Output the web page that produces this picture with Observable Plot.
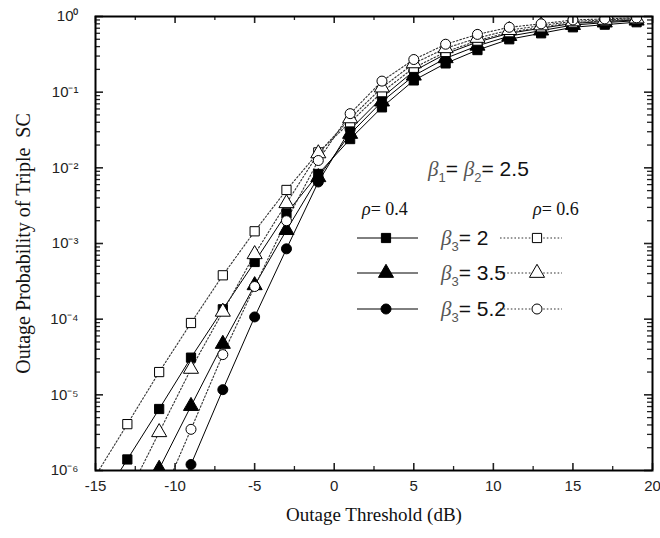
<!DOCTYPE html>
<html><head><meta charset="utf-8">
<script src="https://cdn.jsdelivr.net/npm/d3@7"></script>
<script src="https://cdn.jsdelivr.net/npm/@observablehq/plot@0.6"></script>
<style>
body{margin:0;background:#fff}
#wrap{position:relative;width:660px;height:538px}
#legend{position:absolute;left:0;top:0;pointer-events:none}
</style>
</head><body><div id="wrap"></div>
<script>
// Outage threshold (dB)
const thresholds = [-15,-13,-11,-9,-7,-5,-3,-1,1,3,5,7,9,11,13,15,17,19];
// rho = 0.4 (solid, filled markers)
const rho04_beta2   = [3.0e-7,1.4e-6,6.5e-6,3.1e-5,1.35e-4,5.7e-4,2.5e-3,8.3e-3,2.4e-2,0.063,0.143,0.24,0.36,0.50,0.60,0.72,0.78,0.84];
const rho04_beta3_5 = [null,2.0e-7,1.05e-6,7.1e-6,4.7e-5,2.8e-4,1.5e-3,7.5e-3,2.8e-2,0.075,0.165,0.28,0.41,0.55,0.65,0.77,0.83,0.88];
const rho04_beta5_2 = [null,null,1.4e-7,1.2e-6,1.17e-5,1.07e-4,8.5e-4,6.5e-3,3.2e-2,0.085,0.19,0.32,0.46,0.60,0.70,0.81,0.86,0.90];
// rho = 0.6 (dotted, open markers)
const rho06_beta2   = [8.5e-7,4.1e-6,2.0e-5,8.9e-5,3.8e-4,1.45e-3,5.1e-3,1.6e-2,4.0e-2,0.10,0.21,0.34,0.48,0.62,0.72,0.83,0.87,0.92];
const rho06_beta3_5 = [null,4.6e-7,3.2e-6,2.2e-5,1.25e-4,7.2e-4,3.4e-3,1.55e-2,4.5e-2,0.115,0.24,0.38,0.52,0.66,0.76,0.86,0.90,0.94];
const rho06_beta5_2 = [null,null,3.7e-7,3.5e-6,3.4e-5,2.7e-4,2.0e-3,1.25e-2,5.2e-2,0.14,0.27,0.43,0.58,0.72,0.80,0.90,0.93,0.96];

const xTicks = [-15,-10,-5,0,5,10,15,20];
const xMinorTicks = [-12.5,-7.5,-2.5,2.5,7.5,12.5,17.5];
const yTicks = [1e-6,1e-5,1e-4,1e-3,1e-2,1e-1,1];
const yMinorTicks = [];
for (let k = -6; k < 0; k++) for (let m = 2; m <= 9; m++) yMinorTicks.push(m * Math.pow(10, k));

const series = [
  {vals: rho04_beta2,   symbol: "square",   open: false},
  {vals: rho04_beta3_5, symbol: "triangle", open: false},
  {vals: rho04_beta5_2, symbol: "circle",   open: false},
  {vals: rho06_beta2,   symbol: "square",   open: true},
  {vals: rho06_beta3_5, symbol: "triangle", open: true},
  {vals: rho06_beta5_2, symbol: "circle",   open: true}
];

const W = 660, H = 538, mL = 95, mR = 8, mT = 16, mB = 68;
const pW = W - mL - mR, pH = H - mT - mB;
const sup = {"-":"⁻","0":"⁰","1":"¹","2":"²","3":"³","4":"⁴","5":"⁵","6":"⁶"};
const fmtY = d => "10" + String(Math.round(Math.log10(d))).split("").map(c => sup[c]).join("");

const marks = [];
for (const s of series) {
  const data = thresholds.map((x, i) => ({x, y: s.vals[i]})).filter(d => d.y != null);
  marks.push(Plot.line(data, {x: "x", y: "y", clip: true,
    stroke: s.open ? "#333" : "#000", strokeWidth: s.open ? 1.1 : 1,
    strokeDasharray: s.open ? "1.6,2" : null}));
}
for (const s of series) {
  const data = thresholds.map((x, i) => ({x, y: s.vals[i]})).filter(d => d.y != null);
  const r = s.symbol === "circle" ? 5 : s.symbol === "triangle" ? 5.6 : 5.2;
  marks.push(Plot.dot(data, {x: "x", y: "y", clip: true, symbol: () => s.symbol, r,
    fill: s.open ? "#fff" : "#000", stroke: "#000", strokeWidth: 1}));
}
// ticks inward on all sides
marks.push(
  Plot.ruleX(xTicks, {x: d => d, insetTop: pH - 7, strokeWidth: 1.6}),
  Plot.ruleX(xTicks, {x: d => d, insetBottom: pH - 7, strokeWidth: 1.6}),
  Plot.ruleX(xMinorTicks, {x: d => d, insetTop: pH - 4, strokeWidth: 1.3}),
  Plot.ruleX(xMinorTicks, {x: d => d, insetBottom: pH - 4, strokeWidth: 1.3}),
  Plot.ruleY(yTicks, {y: d => d, insetRight: pW - 8, strokeWidth: 1.6}),
  Plot.ruleY(yTicks, {y: d => d, insetLeft: pW - 8, strokeWidth: 1.6}),
  Plot.ruleY(yMinorTicks, {y: d => d, insetRight: pW - 5, strokeWidth: 1.3}),
  Plot.ruleY(yMinorTicks, {y: d => d, insetLeft: pW - 5, strokeWidth: 1.3}),
  Plot.frame({stroke: "#000", strokeWidth: 2}),
  Plot.axisX(xTicks, {tickSize: 0, tickPadding: 10, tickFormat: d => String(d), fontSize: 15, label: null}),
  Plot.axisY(yTicks, {tickSize: 0, tickPadding: 17, tickFormat: fmtY, fontSize: 15, label: null}),
  Plot.text(["Outage Threshold (dB)"], {frameAnchor: "bottom", dy: 50, fontSize: 19, textAnchor: "middle",
    fontFamily: "Liberation Serif, Times New Roman, serif", fill: "#111"}),
  Plot.text(["Outage Probability of Triple  SC"], {frameAnchor: "left", dx: -72, rotate: -90, fontSize: 20,
    textAnchor: "middle", fontFamily: "Liberation Serif, Times New Roman, serif", fill: "#111"})
);

const chart = Plot.plot({
  width: W, height: H,
  marginLeft: mL, marginRight: mR, marginTop: mT, marginBottom: mB,
  style: {fontFamily: "Liberation Sans, Arial, sans-serif", color: "#222", background: "#fff"},
  x: {domain: [-15, 20]},
  y: {type: "log", domain: [1e-6, 1]},
  marks
});
document.getElementById("wrap").appendChild(chart);

// Legend overlay
const svg = d3.select("#wrap").append("svg").attr("id", "legend").attr("width", W).attr("height", H);
const serif = "Liberation Serif, Times New Roman, serif";
const sans = "Liberation Sans, Arial, sans-serif";
function beta(g, x, y, sub, rest, size) {
  const t = g.append("text").attr("x", x).attr("y", y).attr("font-size", size).attr("font-family", sans).attr("fill", "#111");
  t.append("tspan").attr("font-family", serif).attr("font-style", "italic").attr("fill", "#555").text("β");
  t.append("tspan").attr("font-size", size * 0.62).attr("dy", size * 0.3).attr("fill", "#555").text(sub);
  t.append("tspan").attr("dy", -size * 0.3).text(rest);
  return t;
}
// beta1 = beta2 = 2.5
{
  const size = 21;
  const t = svg.append("text").attr("x", 428).attr("y", 176).attr("font-size", size).attr("font-family", sans).attr("fill", "#111");
  t.append("tspan").attr("font-family", serif).attr("font-style", "italic").attr("fill", "#555").text("β");
  t.append("tspan").attr("font-size", 13).attr("dy", 6).attr("fill", "#555").text("1");
  t.append("tspan").attr("dy", -6).text("= ");
  t.append("tspan").attr("font-family", serif).attr("font-style", "italic").attr("fill", "#555").text("β");
  t.append("tspan").attr("font-size", 13).attr("dy", 6).attr("fill", "#555").text("2");
  t.append("tspan").attr("dy", -6).text("= 2.5");
}
// rho headers
for (const [x, v] of [[362, "0.4"], [533, "0.6"]]) {
  const t = svg.append("text").attr("x", x).attr("y", 215).attr("font-size", 18).attr("font-family", serif).attr("fill", "#111");
  t.append("tspan").attr("font-style", "italic").text("ρ");
  t.append("tspan").text("= " + v);
}
const rows = [{y: 238, sym: "square", label: "= 2"}, {y: 273, sym: "triangle", label: "= 3.5"}, {y: 309, sym: "circle", label: "= 5.2"}];
for (const r of rows) {
  svg.append("line").attr("x1", 357).attr("x2", 418).attr("y1", r.y).attr("y2", r.y).attr("stroke", "#000").attr("stroke-width", 1);
  svg.append("line").attr("x1", 500).attr("x2", 562).attr("y1", r.y).attr("y2", r.y).attr("stroke", "#333").attr("stroke-width", 1.1).attr("stroke-dasharray", "1.6,2");
  const rad = r.sym === "circle" ? 5 : r.sym === "triangle" ? 5.6 : 5.2;
  const sy = r.sym === "square" ? d3.symbolSquare : r.sym === "triangle" ? d3.symbolTriangle : d3.symbolCircle;
  const p = d3.symbol(sy, Math.PI * rad * rad)();
  svg.append("path").attr("d", p).attr("transform", `translate(386,${r.y})`).attr("fill", "#000").attr("stroke", "#000");
  svg.append("path").attr("d", p).attr("transform", `translate(537,${r.y})`).attr("fill", "#fff").attr("stroke", "#000");
  beta(svg, 441, r.y + 7, "3", r.label, 21);
}
</script>
</body></html>
